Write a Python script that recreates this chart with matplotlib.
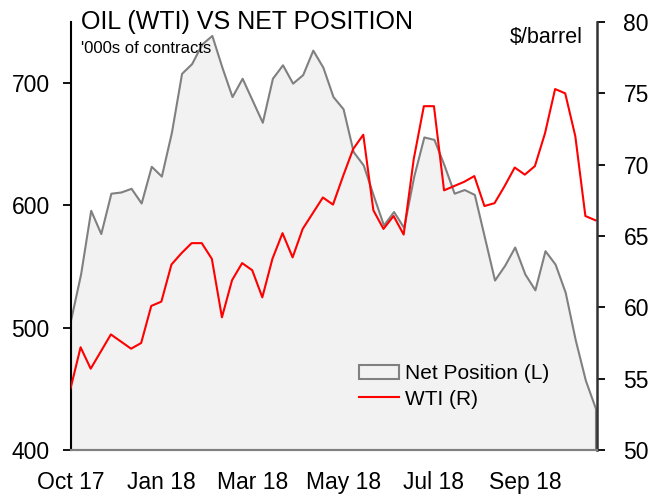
import numpy as np
import matplotlib
matplotlib.use("Agg")
import matplotlib.pyplot as plt

# weekly observations, Oct 17 -> Oct 18
net_position = [506, 544, 596, 577, 610, 611, 614, 602, 632, 624,
                 660, 708, 716, 732, 739, 713, 689, 704, 686, 668,
                 704, 715, 700, 707, 727, 713, 689, 679, 644, 633,
                 608, 584, 595, 582, 624, 656, 654, 633, 610, 613,
                 609, 574, 539, 551, 566, 544, 531, 563, 552, 529,
                 490, 457, 434]
wti = [54.3, 57.2, 55.7, 56.9, 58.1, 57.6, 57.1, 57.5, 60.1, 60.4,
       63.0, 63.8, 64.5, 64.5, 63.4, 59.3, 61.9, 63.1, 62.6, 60.7,
       63.4, 65.2, 63.5, 65.5, 66.6, 67.7, 67.2, 69.2, 71.1, 72.1,
       66.8, 65.5, 66.4, 65.1, 70.4, 74.1, 74.1, 68.2, 68.5, 68.8,
       69.2, 67.1, 67.3, 68.5, 69.8, 69.3, 69.9, 72.2, 75.3, 75.0,
       72.0, 66.4, 66.1]
month_labels = ["Oct 17", "Jan 18", "Mar 18", "May 18", "Jul 18", "Sep 18"]
label_step = 9

SANS = ["Liberation Sans", "DejaVu Sans"]
plt.rcParams["font.family"] = SANS

W, H = 665, 500
fig = plt.figure(figsize=(W / 100, H / 100), dpi=100)
fig.subplots_adjust(left=70.5 / W, right=597 / W, top=1 - 22 / H, bottom=1 - 450 / H)
ax = fig.add_subplot(111)
ax2 = ax.twinx()

x = np.arange(len(net_position))

area = ax.fill_between(x, 400, net_position, facecolor="#f2f2f2",
                       edgecolor="#808080", linewidth=1.5,
                       label="Net Position (L)")
line, = ax2.plot(x, wti, color="#ff0000", linewidth=1.5, label="WTI (R)")

ax.set_xlim(0, len(x) - 0.85)
ax.set_ylim(400, 750)
ax.set_yticks([400, 500, 600, 700])
ax2.set_ylim(50, 80)
ax2.set_yticks(np.arange(50, 81, 5))

ax.set_xticks(np.arange(0, len(month_labels) * label_step, label_step))
ax.set_xticklabels(month_labels)

for a in (ax, ax2):
    a.spines["top"].set_visible(False)
    a.spines["bottom"].set_color("#808080")
    a.spines["bottom"].set_linewidth(1.5)
ax.spines["right"].set_visible(False)
ax.spines["left"].set_linewidth(1.5)
ax2.spines["left"].set_visible(False)
ax2.spines["right"].set_linewidth(1.8)
ax2.spines["right"].set_color("#333333")

ax.tick_params(axis="x", length=0, pad=15, labelsize=16.5)
ax.tick_params(axis="y", length=6, width=1.3, pad=9, labelsize=16.5)
ax2.tick_params(axis="y", length=6, width=1.3, pad=13, labelsize=16.5)

fig.text(81 / W, 1 - 29 / H, "OIL (WTI) VS NET POSITION", fontsize=18,
         ha="left", va="baseline")
fig.text(81 / W, 1 - 53 / H, "'000s of contracts", fontsize=12,
         ha="left", va="baseline")
fig.text(583 / W, 1 - 43 / H, "$/barrel", fontsize=15.5,
         ha="right", va="baseline")

leg = ax2.legend([area, line], ["Net Position (L)", "WTI (R)"],
                 loc="upper left", bbox_to_anchor=(349 / W, 1 - 354 / H),
                 bbox_transform=fig.transFigure, frameon=False, fontsize=15,
                 borderpad=0, handlelength=1.9, handletextpad=0.3,
                 labelspacing=0.3)

fig.savefig("out.png", dpi=100)
